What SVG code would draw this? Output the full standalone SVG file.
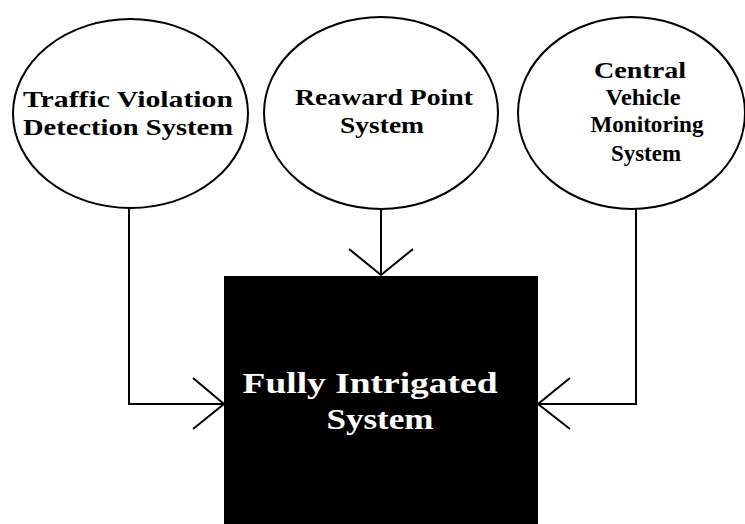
<svg xmlns="http://www.w3.org/2000/svg" width="745" height="524" viewBox="0 0 745 524">
<style>
.node ellipse{fill:#fff;stroke:#000;stroke-width:2}
.t{font-family:"Liberation Serif","Times New Roman",serif;font-weight:bold;font-size:23px;fill:#000;text-anchor:middle}
.c{font-size:24px}
.w{font-family:"Liberation Serif","Times New Roman",serif;font-weight:bold;font-size:30px;fill:#fff;text-anchor:middle}
#connectors path{fill:none;stroke:#000;stroke-width:2}
</style>
<rect width="745" height="524" fill="#fff"/>
<g id="connectors">
<path d="M129,208 V404 H224"/>
<path d="M193,378 L224,404 L193,429"/>
<path d="M381,209 V275"/>
<path d="M349,249 L381,275 L413,249"/>
<path d="M636,209 V404 H538"/>
<path d="M570,378 L538,404 L570,429"/>
</g>
<g id="traffic" class="node">
<ellipse cx="130.5" cy="113.5" rx="117.5" ry="94.5"/>
<text class="t" x="128" y="107" textLength="210" lengthAdjust="spacingAndGlyphs">Traffic Violation</text>
<text class="t" x="128" y="135" textLength="210" lengthAdjust="spacingAndGlyphs">Detection System</text>
</g>
<g id="reward" class="node">
<ellipse cx="381" cy="113" rx="117" ry="96"/>
<text class="t" x="384" y="105" textLength="178" lengthAdjust="spacingAndGlyphs">Reaward Point</text>
<text class="t" x="382" y="133" textLength="84" lengthAdjust="spacingAndGlyphs">System</text>
</g>
<g id="central" class="node">
<ellipse cx="631.5" cy="113" rx="113.5" ry="96"/>
<text class="t c" x="640" y="78" textLength="92" lengthAdjust="spacingAndGlyphs">Central</text>
<text class="t c" x="643" y="105" textLength="75" lengthAdjust="spacingAndGlyphs">Vehicle</text>
<text class="t c" x="647" y="132" textLength="113" lengthAdjust="spacingAndGlyphs">Monitoring</text>
<text class="t c" x="646" y="161" textLength="70" lengthAdjust="spacingAndGlyphs">System</text>
</g>
<g id="integrated" class="node">
<rect x="224" y="276" width="314" height="248" fill="#000"/>
<text class="w" x="370" y="393" textLength="255" lengthAdjust="spacingAndGlyphs">Fully Intrigated</text>
<text class="w" x="380" y="429" textLength="107" lengthAdjust="spacingAndGlyphs">System</text>
</g>
</svg>
